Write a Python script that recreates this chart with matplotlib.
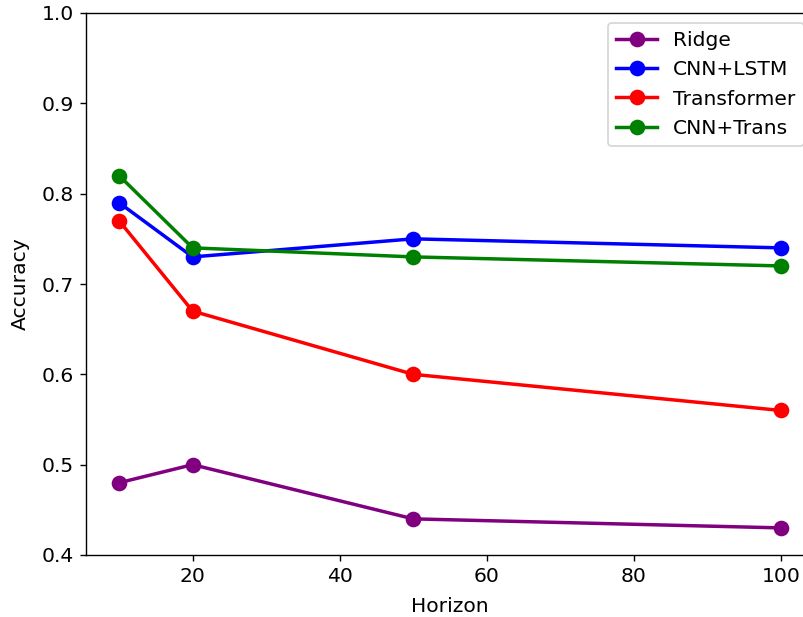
import matplotlib
matplotlib.use("Agg")
import matplotlib.pyplot as plt

horizons = [10, 20, 50, 100]
ridge = [0.48, 0.50, 0.44, 0.43]
cnn_lstm = [0.79, 0.73, 0.75, 0.74]
transformer = [0.77, 0.67, 0.60, 0.56]
cnn_trans = [0.82, 0.74, 0.73, 0.72]

series = [
    ("Ridge", ridge, "purple"),
    ("CNN+LSTM", cnn_lstm, "blue"),
    ("Transformer", transformer, "red"),
    ("CNN+Trans", cnn_trans, "green"),
]

plt.rcParams["font.size"] = 11.7

fig = plt.figure(figsize=(803 / 125, 617 / 125), dpi=125)
ax = fig.add_axes([86 / 803, 62 / 617, 728 / 803, 542 / 617])

for name, vals, color in series:
    ax.plot(horizons, vals, marker="o", markersize=8, linewidth=2, color=color, label=name)

ax.set_ylim(0.4, 1.0)
ax.set_xlabel("Horizon", labelpad=6)
ax.set_ylabel("Accuracy", labelpad=7)
ax.legend(loc="upper right")

fig.savefig("out.png", dpi=125)
